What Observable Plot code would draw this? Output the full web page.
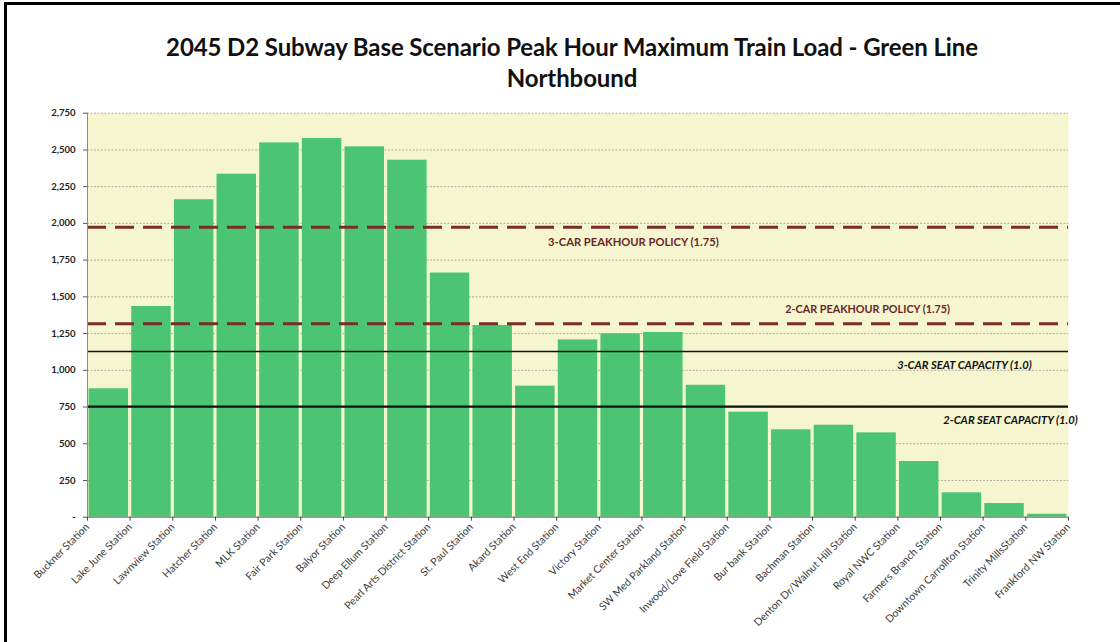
<!DOCTYPE html>
<html><head><meta charset="utf-8">
<script src="https://cdn.jsdelivr.net/npm/d3@7"></script>
<script src="https://cdn.jsdelivr.net/npm/@observablehq/plot@0.6"></script>
<style>
body{margin:0;background:#fff;width:1120px;height:642px;overflow:hidden;position:relative;}
#frame{position:absolute;left:4px;top:2px;width:1140px;height:660px;border-top:3px solid #000;border-left:3px solid #000;pointer-events:none;}
#title{height:100px;box-sizing:border-box;padding-top:31px;padding-left:24px;text-align:center;font:bold 24px Lato, sans-serif;line-height:31px;color:#111;letter-spacing:-0.1px;}
#chart svg{display:block;}
</style></head>
<body>
<div id="title">2045 D2 Subway Base Scenario Peak Hour Maximum Train Load - Green Line<br>Northbound</div>
<div id="chart"></div>
<div id="frame"></div>
<script>
const stations = ["Buckner Station","Lake June Station","Lawnview Station","Hatcher Station","MLK Station","Fair Park Station","Balyor Station","Deep Ellum Station","Pearl Arts District Station","St. Paul Station","Akard Station","West End Station","Victory Station","Market Center Station","SW Med Parkland Station","Inwood/Love Field Station","Bur bank Station","Bachman Station","Denton Dr/Walnut Hill Station","Royal NWC Station","Farmers Branch Station","Downtown Carrollton Station","Trinity MillsStation","Frankford NW Station"];
const loads = [874,1434,2161,2335,2548,2578,2521,2430,1662,1305,892,1207,1248,1257,898,715,595,626,574,379,166,93,20];
const yTicks = [0,250,500,750,1000,1250,1500,1750,2000,2250,2500,2750];
const refLabels = ["3-CAR PEAKHOUR POLICY (1.75)","2-CAR PEAKHOUR POLICY (1.75)","3-CAR SEAT CAPACITY (1.0)","2-CAR SEAT CAPACITY (1.0)"];
const refValues = [1974,1316,1128,752];

const segments = loads.map((v,i)=>({i, v}));
const fmt = d3.format(",");

const chart = Plot.plot({
  width:1120, height:542,
  marginTop:12.7, marginBottom:125.3, marginLeft:87, marginRight:52,
  x:{domain:[0,stations.length-1]},
  y:{domain:[0,2750]},
  style:{fontFamily:"Lato, sans-serif", background:"transparent", overflow:"visible"},
  marks:[
    Plot.frame({fill:"#F5F5D0", stroke:null}),
    Plot.gridY(yTicks.slice(1), {stroke:"#9a9a9a", strokeOpacity:1, strokeWidth:0.8, strokeDasharray:"2,1.5"}),
    Plot.rect(segments, {x1:"i", x2:d=>d.i+1, y1:0, y2:"v", fill:"#4BC473", insetLeft:1.6, insetRight:1.6}),
    Plot.ruleY([refValues[0]], {stroke:"#7A2C2C", strokeWidth:3, strokeDasharray:"19,9"}),
    Plot.ruleY([refValues[1]], {stroke:"#7A2C2C", strokeWidth:3, strokeDasharray:"19,9"}),
    Plot.ruleY([refValues[2]], {stroke:"#111", strokeWidth:1.5}),
    Plot.ruleY([refValues[3]], {stroke:"#111", strokeWidth:2.2}),
    Plot.ruleX([0], {stroke:"#8a8a8a", strokeWidth:1}),
    Plot.ruleY([0], {stroke:"#666", strokeWidth:1}),
    Plot.axisY({ticks:yTicks, tickFormat:d=>d===0?"-":fmt(d), tickSize:4, tickPadding:8, fontSize:9.5, fontWeight:"bold", fill:"#222", stroke:"#555", label:null}),
    Plot.axisX({ticks:d3.range(stations.length), tickFormat:i=>stations[i], tickRotate:-45, tickSize:4, tickPadding:4, fontSize:10.5, fill:"#3a3a3a", stroke:"#444", label:null}),
    Plot.text([refLabels[0]], {x:12.8, y:refValues[0], dy:15.5, text:d=>d, fill:"#6B2626", fontWeight:"bold", fontSize:11.2}),
    Plot.text([refLabels[1]], {x:18.29, y:refValues[1], dy:-14, text:d=>d, fill:"#6B2626", fontWeight:"bold", fontSize:10.8}),
    Plot.text([refLabels[2]], {x:20.56, y:refValues[2], dy:13.5, text:d=>d, fill:"#111", fontWeight:"bold", fontStyle:"italic", fontSize:11.2}),
    Plot.text([refLabels[3]], {x:21.64, y:refValues[3], dy:14, text:d=>d, fill:"#111", fontWeight:"bold", fontStyle:"italic", fontSize:11.2})
  ]
});
document.getElementById("chart").appendChild(chart);
</script>
</body></html>
